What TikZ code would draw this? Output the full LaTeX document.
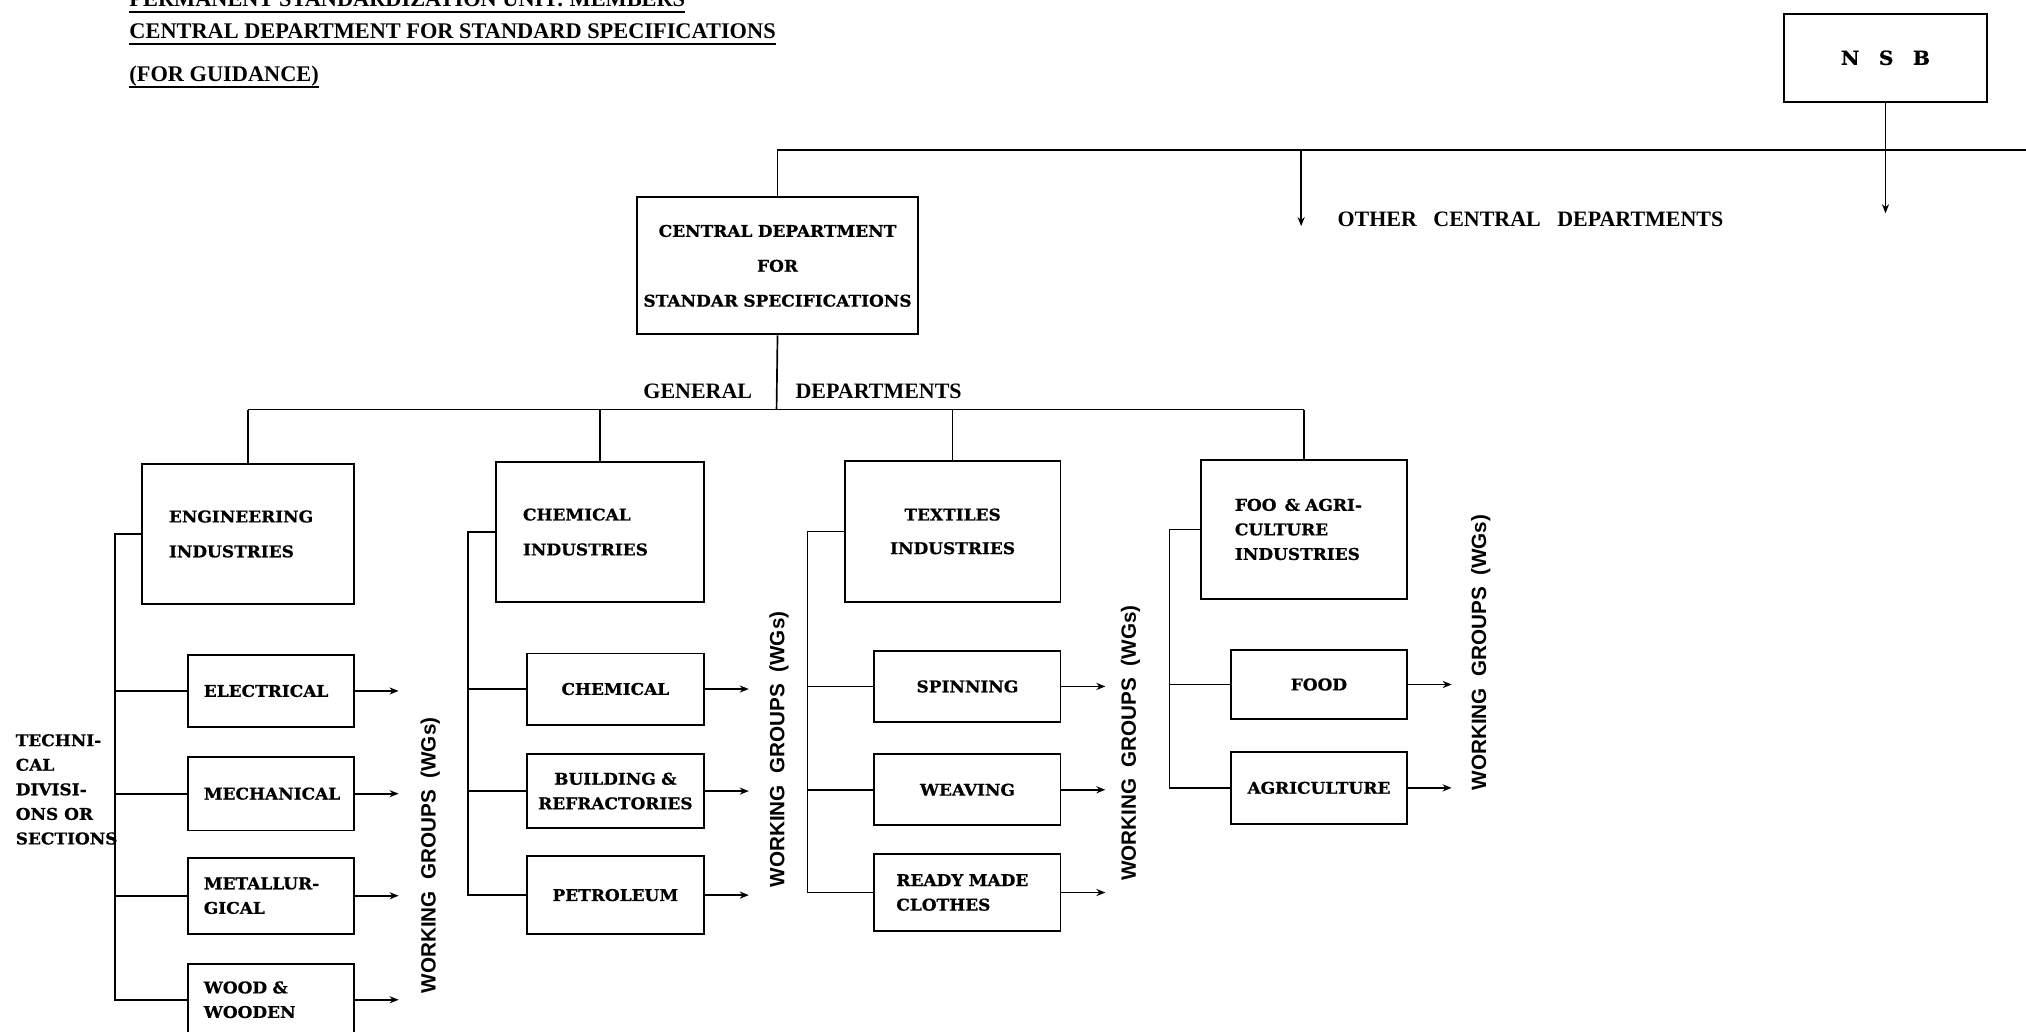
\documentclass[tikz,border=0pt]{standalone}
\usepackage{fontspec}
\setmainfont{Liberation Serif}
\newfontfamily\boxfont{DejaVu Serif}[FakeStretch=1.05, BoldFeatures={FakeBold=0.8}]
\newfontfamily\wgfont{Liberation Sans}
\usetikzlibrary{arrows.meta}

\tikzset{
  >={Stealth[length=7pt,width=5.5pt]},
  conn/.style={line width=1.3pt},
  dept/.style={draw, line width=1.5pt, anchor=north west, inner sep=0pt,
    font=\fontsize{12.5}{19}\boxfont\bfseries},
  head/.style={inner sep=0pt, anchor=base west, font=\fontsize{17.3}{20}\selectfont\bfseries},
  lbl/.style={inner sep=0pt, font=\fontsize{17}{20}\selectfont\bfseries},
  wg/.style={rotate=90, inner sep=0pt, font=\fontsize{16}{20}\wgfont\bfseries},
}

\begin{document}
\begin{tikzpicture}[x=1pt, y=-1pt]
  \useasboundingbox (0,0) rectangle (1568,798);
  \clip (0,0) rectangle (1568,798);
  % headings
  \node[head] (t1) at (100,5) {PERMANENT STANDARDIZATION UNIT: MEMBERS};
  \node[head] (t2) at (100,30) {CENTRAL DEPARTMENT FOR STANDARD SPECIFICATIONS};
  \node[head] (t3) at (100,63) {(FOR GUIDANCE)};
  \foreach \t in {t1,t2,t3}
    \draw[line width=1.5pt] ([yshift=-4pt]\t.base west) -- ([yshift=-4pt]\t.base east);

  % board and central department
  \node[dept, minimum width=157, minimum height=68, font=\fontsize{15}{19}\boxfont\bfseries] (nsb) at (1380,10) {N\quad S\quad B};
  \node[dept, minimum width=218, minimum height=106, text width=214, align=center] (cent) at (492,152) {CENTRAL DEPARTMENT\\[8pt] FOR\\[8pt] STANDAR SPECIFICATIONS};
  \coordinate (rim) at (1568,116);
  \coordinate (other) at (1007,116);
  \coordinate (otherend) at (1007,175);
  \coordinate (nsbend) at (1459,165);
  \draw[conn] (cent.north) |- (rim);
  \draw[conn,->] (nsb.south) -- (nsb.south |- nsbend);
  \draw[conn,->] (other) -- (otherend);
  \node[lbl, anchor=west] (othertext) at (1035,170) {OTHER\ \ \ CENTRAL\ \ \ DEPARTMENTS};

  % general departments
  \node[dept, minimum width=164, minimum height=109, text width=122, align=left] (eng) at (109,358) {ENGINEERING\\[8pt] INDUSTRIES};
  \node[dept, minimum width=161, minimum height=108, text width=119, align=left] (chem) at (383,357) {CHEMICAL\\[8pt] INDUSTRIES};
  \node[dept, minimum width=167, minimum height=109, text width=140, align=center] (tex) at (653,356) {TEXTILES\\[7pt] INDUSTRIES};
  \node[dept, minimum width=159, minimum height=108, text width=107, align=left] (food) at (929,355) {FOO \,\& AGRI-\\CULTURE\\INDUSTRIES};
  \coordinate (gen) at (601,317);
  \draw[conn] (cent.south) -- (gen);
  \draw[conn] (eng.north |- gen) -- (food.north |- gen);
  \foreach \n in {eng,chem,tex,food}
    \draw[conn] (\n.north |- gen) -- (\n.north);
  \node[lbl] (general) at (540,303) {GENERAL};
  \node[lbl] (departments) at (680,303) {DEPARTMENTS};

  % technical divisions
  \node[dept, minimum width=128, minimum height=56, text width=104, align=left] (elec) at (145,506) {ELECTRICAL};
  \node[dept, minimum width=128, minimum height=57, text width=104, align=left] (mech) at (145,585) {MECHANICAL};
  \node[dept, minimum width=128, minimum height=59, text width=104, align=left] (metal) at (145,663) {METALLUR-\\GICAL};
  \node[dept, minimum width=128, minimum height=56, text width=104, align=left] (wood) at (145,745) {WOOD \&\\WOODEN};
  \node[dept, minimum width=137, minimum height=55, text width=130, align=center] (chm) at (407,505) {CHEMICAL};
  \node[dept, minimum width=137, minimum height=57, text width=130, align=center] (bld) at (407,583) {BUILDING \&\\REFRACTORIES};
  \node[dept, minimum width=137, minimum height=60, text width=130, align=center] (pet) at (407,662) {PETROLEUM};
  \node[dept, minimum width=144, minimum height=55, text width=130, align=center] (spin) at (676,503) {SPINNING};
  \node[dept, minimum width=144, minimum height=55, text width=130, align=center] (weav) at (676,583) {WEAVING};
  \node[dept, minimum width=144, minimum height=60, text width=110, align=left] (ready) at (676,660) {READY MADE\\CLOTHES};
  \node[dept, minimum width=136, minimum height=54, text width=130, align=center] (fd) at (952,502) {FOOD};
  \node[dept, minimum width=136, minimum height=56, text width=130, align=center] (agr) at (952,581) {AGRICULTURE};

  \node[inner sep=0pt, anchor=north west, align=left, font=\fontsize{12.5}{19}\boxfont\bfseries] (techn) at (12,568) {TECHNI-\\CAL\\DIVISI-\\ONS OR\\SECTIONS};

  % buses
  \coordinate (eb) at (89,0);
  \coordinate (cb) at (362,0);
  \coordinate (tb) at (625,0);
  \coordinate (fb) at (905,0);
  \draw[conn] (eng.west) -| (eb |- wood.west) -- (wood.west);
  \draw[conn] (chem.west) -| (cb |- pet.west) -- (pet.west);
  \draw[conn] (tex.west) -| (tb |- ready.west) -- (ready.west);
  \draw[conn] (food.west) -| (fb |- agr.west) -- (agr.west);
  \foreach \n in {elec,mech,metal}
    \draw[conn] (eb |- \n.west) -- (\n.west);
  \foreach \n in {chm,bld}
    \draw[conn] (cb |- \n.west) -- (\n.west);
  \foreach \n in {spin,weav}
    \draw[conn] (tb |- \n.west) -- (\n.west);
  \draw[conn] (fb |- fd.west) -- (fd.west);

  % working groups
  \foreach \n in {elec,mech,metal,wood,chm,bld,pet,spin,weav,ready,fd,agr}
    \draw[conn,->] (\n.east) -- ++(34,0);
  \node[wg] (wg1) at (333,662) {WORKING\ \ GROUPS\ \ (WGs)};
  \node[wg] (wg2) at (603,580) {WORKING\ \ GROUPS\ \ (WGs)};
  \node[wg] (wg3) at (875,575) {WORKING\ \ GROUPS\ \ (WGs)};
  \node[wg] (wg4) at (1146,505) {WORKING\ \ GROUPS\ \ (WGs)};
\end{tikzpicture}
\end{document}
